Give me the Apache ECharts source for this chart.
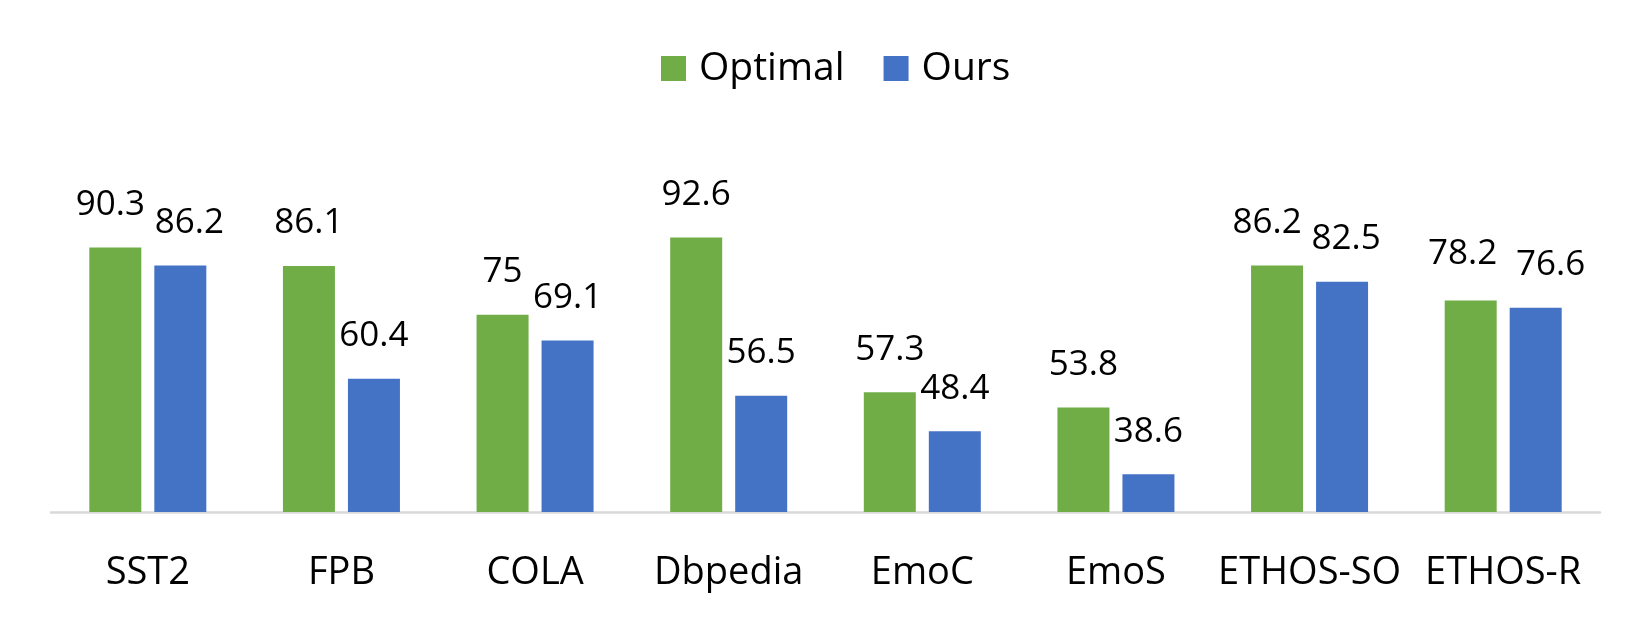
<!DOCTYPE html>
<html>
<head>
<meta charset="utf-8">
<script src="https://cdn.jsdelivr.net/npm/echarts@6/dist/echarts.min.js"></script>
<style>
html,body{margin:0;padding:0;background:#fff;}
#chart{width:1650px;height:626px;}
</style>
</head>
<body>
<div id="chart"></div>
<script>
const categories = ['SST2', 'FPB', 'COLA', 'Dbpedia', 'EmoC', 'EmoS', 'ETHOS-SO', 'ETHOS-R'];
const optimalValues = [90.3, 86.1, 75, 92.6, 57.3, 53.8, 86.2, 78.2];
const oursValues = [86.2, 60.4, 69.1, 56.5, 48.4, 38.6, 82.5, 76.6];
const seriesNames = ['Optimal', 'Ours'];

// label nudges (styling only) for labels that would collide
const labelNudge = {
  Optimal: {0: [-5, 0], 6: [-10, 0], 7: [-8, -4]},
  Ours: {0: [9, 0], 6: [4, 0], 7: [15, 0]}
};

const FONT = 'Open Sans';

function buildData(name, values) {
  return values.map((v, i) => {
    const n = labelNudge[name][i];
    return n ? {value: v, label: {offset: n}} : {value: v};
  });
}

const chart = echarts.init(document.getElementById('chart'), null, {renderer: 'canvas'});
const option = {
  animation: false,
  backgroundColor: '#ffffff',
  color: ['#70AD47', '#4472C4'],
  legend: {
    data: seriesNames,
    left: 661,
    top: 49,
    padding: 0,
    itemWidth: 25,
    itemHeight: 25,
    itemGap: 39,
    icon: 'rect',
    textStyle: {fontFamily: FONT, fontSize: 39, lineHeight: 39, color: '#000', padding: [0, 0, 0, 8]}
  },
  grid: {left: 51, right: 50, top: 205, bottom: 114, containLabel: false},
  xAxis: {
    type: 'category',
    data: categories,
    axisLine: {show: true, lineStyle: {color: '#D9D9D9', width: 2.5}},
    axisTick: {show: false},
    axisLabel: {interval: 0, margin: 42, fontFamily: FONT, fontSize: 38, lineHeight: 38, color: '#000'}
  },
  yAxis: {
    type: 'value',
    min: 30,
    max: 100,
    show: false,
    splitLine: {show: false}
  },
  series: [
    {
      name: seriesNames[0],
      type: 'bar',
      data: buildData('Optimal', optimalValues),
      barWidth: 52,
      barGap: '25%',
      label: {show: true, position: 'top', distance: 25, fontFamily: FONT, fontSize: 35, lineHeight: 35, color: '#000'}
    },
    {
      name: seriesNames[1],
      type: 'bar',
      data: buildData('Ours', oursValues),
      barWidth: 52,
      barGap: '25%',
      label: {show: true, position: 'top', distance: 25, fontFamily: FONT, fontSize: 35, lineHeight: 35, color: '#000'}
    }
  ]
};
chart.setOption(option);
</script>
</body>
</html>
